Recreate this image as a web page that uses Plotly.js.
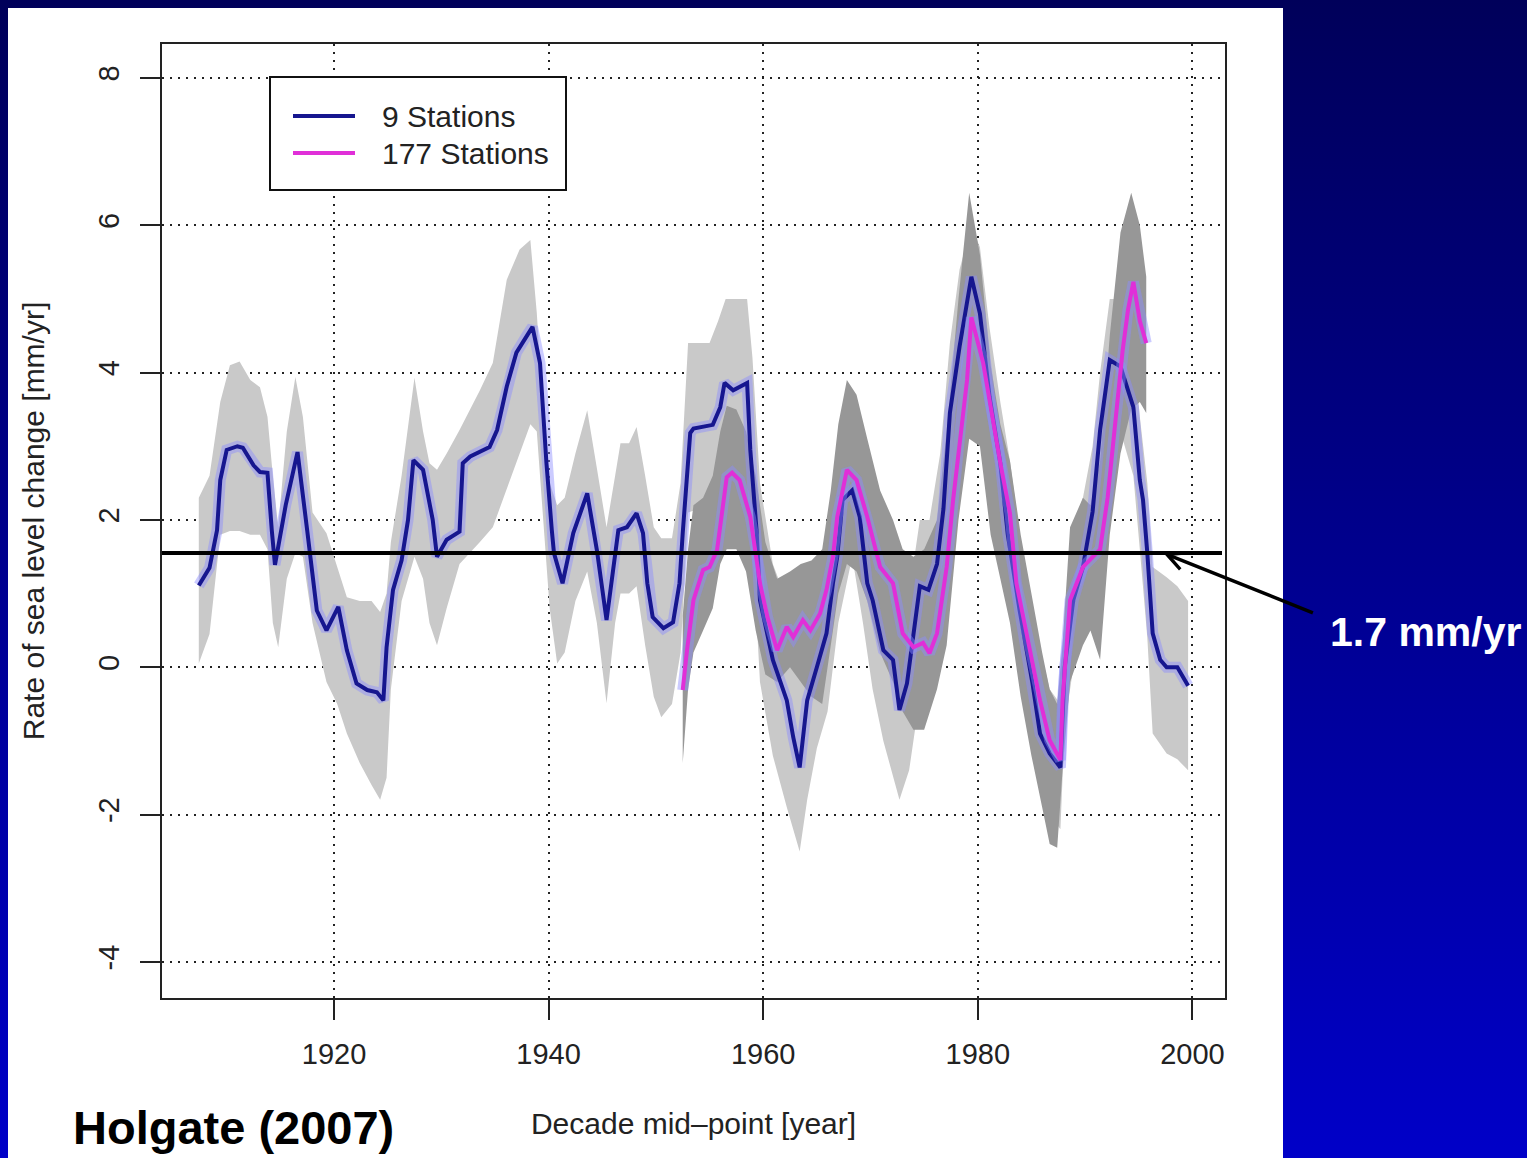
<!DOCTYPE html>
<html>
<head>
<meta charset="utf-8">
<script src="https://cdn.plot.ly/plotly-3.0.1.min.js"></script>
<style>
  html, body { margin: 0; padding: 0; width: 1527px; height: 1158px; overflow: hidden; }
  body { background: linear-gradient(to bottom, #00005a 0%, #000090 50%, #0000c8 100%); position: relative; }
  #panel { position: absolute; left: 8px; top: 8px; width: 1275px; height: 1150px; background: #ffffff; }
  #chart { position: absolute; left: 0; top: 0; width: 1527px; height: 1158px; }
</style>
</head>
<body>
<div id="panel"></div>
<div id="chart"></div>
<script>
// ---------- DATA ----------
// 9 stations: decadal rate of sea level change (mm/yr)
const blueYr = [1907.4,1908.4,1909.1,1909.4,1910.0,1911.0,1911.5,1912.5,1913.1,1913.8,1914.2,1914.5,1915.5,1916.6,1917.5,1918.4,1919.3,1920.4,1921.2,1922.1,1923.1,1924.0,1924.6,1924.9,1925.5,1926.3,1926.9,1927.4,1928.3,1929.2,1929.6,1930.5,1931.7,1932.0,1932.7,1934.5,1935.2,1936.1,1937.0,1938.0,1938.5,1939.2,1939.8,1940.3,1940.5,1941.3,1942.3,1943.6,1944.5,1945.4,1946.0,1946.5,1947.3,1948.2,1948.8,1949.2,1949.7,1950.7,1951.6,1952.2,1952.5,1953.2,1953.5,1955.3,1956.0,1956.4,1957.2,1958.5,1958.8,1959.4,1959.7,1960.9,1962.2,1962.8,1963.4,1964.1,1965.0,1965.9,1966.5,1966.9,1967.4,1968.3,1969.0,1969.7,1970.2,1971.2,1972.1,1972.7,1973.4,1974.0,1974.6,1975.4,1976.2,1976.8,1977.4,1978.3,1979.4,1980.2,1981.1,1982.1,1982.8,1983.9,1985.1,1985.8,1986.7,1987.7,1988.1,1988.9,1989.8,1990.7,1991.4,1992.3,1993.3,1994.5,1995.1,1995.4,1995.8,1996.3,1997.0,1997.6,1998.6,1999.6];
const blueVal = [1.11,1.35,1.86,2.54,2.95,3.00,2.98,2.74,2.65,2.64,1.86,1.39,2.20,2.92,1.86,0.77,0.50,0.82,0.23,-0.22,-0.31,-0.34,-0.45,0.27,1.05,1.45,2.00,2.81,2.68,2.00,1.50,1.73,1.84,2.77,2.86,2.99,3.22,3.81,4.27,4.51,4.62,4.13,2.77,1.86,1.55,1.14,1.82,2.36,1.59,0.64,1.36,1.86,1.90,2.09,1.82,1.14,0.68,0.53,0.61,1.14,1.82,3.18,3.24,3.29,3.53,3.86,3.76,3.86,2.95,1.82,0.91,0.10,-0.45,-0.95,-1.36,-0.45,0.00,0.46,1.14,1.50,2.27,2.40,2.04,1.14,0.91,0.23,0.10,-0.58,-0.22,0.46,1.10,1.05,1.40,2.15,3.45,4.35,5.30,4.80,3.67,2.77,1.80,0.77,-0.22,-0.90,-1.17,-1.36,0.00,0.91,1.36,2.11,3.22,4.17,4.08,3.53,2.54,2.27,1.55,0.46,0.10,0.00,0.00,-0.25];

// 177 stations
const magYr = [1952.5,1952.9,1953.5,1954.4,1955.0,1955.7,1956.6,1957.1,1957.8,1958.8,1959.7,1960.4,1961.3,1962.2,1962.8,1963.7,1964.4,1965.3,1965.9,1966.5,1966.9,1967.8,1968.7,1969.7,1970.9,1972.1,1973.0,1974.0,1974.9,1975.5,1976.2,1977.1,1977.7,1979.0,1979.4,1980.5,1982.1,1983.0,1983.6,1984.9,1985.8,1986.7,1987.7,1987.9,1988.6,1989.8,1991.4,1992.1,1992.8,1993.5,1994.0,1994.5,1995.1,1995.7];
const magVal = [-0.31,0.23,0.91,1.32,1.36,1.59,2.58,2.64,2.54,2.04,1.14,0.68,0.23,0.55,0.41,0.64,0.50,0.73,1.05,1.50,2.04,2.68,2.54,2.04,1.36,1.14,0.46,0.27,0.33,0.19,0.46,1.36,2.27,3.90,4.75,4.13,2.77,2.09,1.14,0.23,-0.45,-0.99,-1.26,-0.45,0.91,1.36,1.60,2.30,3.30,4.30,4.85,5.23,4.70,4.40];

// uncertainty band, 9 stations (light grey)
const band9Yr = [1907.4,1908.4,1909.4,1910.3,1911.2,1912.2,1913.1,1913.8,1914.3,1914.8,1915.6,1916.4,1917.1,1918.0,1919.3,1920.3,1921.2,1922.4,1923.5,1924.3,1924.9,1925.3,1926.3,1927.5,1928.3,1928.9,1929.6,1930.5,1931.7,1933.6,1934.8,1936.1,1937.3,1938.3,1938.9,1939.4,1940.1,1940.8,1941.5,1942.5,1943.6,1944.5,1945.4,1946.2,1946.7,1947.5,1948.2,1949.0,1949.8,1950.5,1951.5,1952.3,1953.0,1955.0,1955.8,1956.5,1958.5,1959.0,1959.7,1960.9,1962.2,1963.4,1964.1,1965.0,1966.0,1967.0,1968.3,1969.3,1970.2,1971.2,1972.7,1973.6,1974.6,1975.5,1976.5,1977.4,1978.3,1979.4,1980.2,1981.1,1982.1,1983.0,1983.9,1985.1,1986.7,1987.7,1988.1,1988.9,1989.8,1990.7,1991.4,1992.3,1993.3,1994.5,1995.1,1995.8,1996.3,1997.6,1998.6,1999.6];
const band9Hi = [2.30,2.60,3.60,4.10,4.15,3.90,3.80,3.40,2.60,1.90,3.20,3.94,3.40,2.10,1.82,1.36,0.95,0.90,0.90,0.75,1.00,1.70,2.60,3.93,3.20,2.77,2.68,2.90,3.22,3.76,4.13,5.26,5.67,5.80,4.81,3.67,2.50,2.20,2.30,2.90,3.49,2.70,1.90,2.60,3.04,3.04,3.26,2.60,1.90,1.75,1.75,2.50,4.40,4.40,4.70,5.00,5.00,4.20,2.50,1.40,0.90,0.40,0.90,1.30,1.80,2.60,3.20,2.80,2.00,1.30,0.60,1.00,2.00,2.00,2.90,4.40,5.40,6.00,5.70,4.60,3.60,2.80,1.80,0.70,-0.30,-0.50,0.80,1.90,2.30,3.00,4.00,5.00,5.00,4.40,3.40,2.50,1.36,1.22,1.10,0.90];
const band9Lo = [0.05,0.45,1.80,1.85,1.85,1.80,1.80,1.60,0.60,0.27,1.20,1.55,1.50,0.60,-0.20,-0.50,-0.90,-1.30,-1.60,-1.80,-1.50,-0.30,0.90,1.50,1.20,0.60,0.30,0.80,1.40,1.70,1.90,2.40,2.90,3.30,3.20,2.20,0.80,0.05,0.20,0.90,1.30,0.60,-0.49,0.60,1.00,1.00,1.10,0.30,-0.40,-0.68,-0.50,0.20,2.10,2.20,2.40,2.60,2.70,1.70,-0.20,-1.20,-1.90,-2.50,-1.80,-1.10,-0.60,0.60,1.50,0.60,-0.30,-1.00,-1.80,-1.40,-0.40,-0.30,0.40,2.40,3.30,4.50,3.90,2.70,1.90,1.30,-0.20,-1.20,-2.00,-2.20,-0.80,0.00,0.40,1.20,2.40,3.30,3.20,2.60,1.60,0.40,-0.90,-1.17,-1.25,-1.40];

// uncertainty band, 177 stations (dark grey)
const band177Yr = [1952.5,1953.0,1953.5,1954.4,1955.3,1956.0,1956.6,1957.5,1958.4,1959.3,1960.2,1961.3,1962.5,1963.5,1964.5,1965.5,1966.3,1967.0,1967.8,1968.7,1969.7,1970.9,1972.1,1973.0,1974.0,1975.0,1976.2,1977.1,1978.2,1979.2,1980.2,1981.2,1982.1,1983.0,1984.0,1985.0,1986.0,1986.7,1987.4,1987.9,1988.6,1989.8,1990.5,1991.4,1992.3,1993.3,1994.3,1995.1,1995.7];
const band177Hi = [0.70,1.60,2.20,2.30,2.60,3.20,3.55,3.50,3.20,2.60,1.70,1.20,1.30,1.40,1.45,1.60,2.40,3.30,3.90,3.70,3.10,2.40,2.00,1.60,1.50,1.60,2.00,3.20,5.00,6.44,5.60,4.10,3.30,2.80,1.80,1.00,0.20,-0.30,-0.50,0.30,1.90,2.30,2.20,2.80,4.50,5.90,6.44,6.00,5.30];
const band177Lo = [-1.30,-0.30,0.20,0.50,0.80,1.40,1.60,1.60,1.30,0.50,-0.10,-0.20,0.00,-0.20,-0.40,-0.50,0.30,1.00,1.40,1.30,0.90,0.20,-0.20,-0.60,-0.85,-0.85,-0.30,0.30,2.00,3.10,3.00,1.80,1.20,0.60,-0.40,-1.20,-1.90,-2.40,-2.45,-1.40,-0.20,0.30,0.50,0.10,1.80,2.90,3.50,3.60,3.45];

const seriesNames = ['9 Stations', '177 Stations'];
const xTickVals = [1920, 1940, 1960, 1980, 2000];
const xTickText = ['1920', '1940', '1960', '1980', '2000'];
const yTickVals = [-4, -2, 0, 2, 4, 6, 8];
const yTickText = ['-4', '-2', '0', '2', '4', '6', '8'];
const refRate = 1.55;          // drawn position of the reference rate line
const refArrowYear = 1997.3;   // where the arrow points on the line
const refLabel = '1.7 mm/yr';
const sourceLabel = 'Holgate (2007)';
const xTitle = 'Decade mid–point [year]';
const yTitle = 'Rate of sea level change [mm/yr]';

// ---------- STYLE ----------
const BLUE = '#16168f';
const MAGENTA = '#e02fd8';
const HALO = 'rgba(140,140,255,0.45)';
const LIGHT_GREY = '#c9c9c9';
const DARK_GREY = '#979797';
const FONT = 'Liberation Sans, Arial, Helvetica, sans-serif';

function band(yr, hi, lo, color, name) {
  return {
    x: yr.concat(yr.slice().reverse()),
    y: hi.concat(lo.slice().reverse()),
    type: 'scatter', mode: 'lines', fill: 'toself',
    fillcolor: color, line: {width: 0, color: color},
    name: name, showlegend: false, hoverinfo: 'skip'
  };
}

const traces = [
  band(band9Yr, band9Hi, band9Lo, LIGHT_GREY, 'band 9'),
  band(band177Yr, band177Hi, band177Lo, DARK_GREY, 'band 177'),
  {x: blueYr, y: blueVal, type: 'scatter', mode: 'lines', line: {color: HALO, width: 11}, showlegend: false, hoverinfo: 'skip'},
  {x: blueYr, y: blueVal, type: 'scatter', mode: 'lines', line: {color: BLUE, width: 4}, name: seriesNames[0], showlegend: false},
  {x: magYr, y: magVal, type: 'scatter', mode: 'lines', line: {color: HALO, width: 11}, showlegend: false, hoverinfo: 'skip'},
  {x: magYr, y: magVal, type: 'scatter', mode: 'lines', line: {color: MAGENTA, width: 4}, name: seriesNames[1], showlegend: false}
];

// plot area: x 162..1225, y 44..998 in a 1527x1158 page
const L = 162, R = 1225, T = 44, B = 998;
const W = R - L, H = B - T;
const px = (x) => (x - L) / W;
const py = (y) => (B - y) / H;

const layout = {
  width: 1527, height: 1158,
  margin: {l: L, r: 1527 - R, t: T, b: 1158 - B},
  paper_bgcolor: 'rgba(0,0,0,0)',
  plot_bgcolor: '#ffffff',
  showlegend: false,
  font: {family: FONT, color: '#222', size: 29},
  xaxis: {
    range: [1903.97, 2003.04], autorange: false,
    tickmode: 'array', tickvals: xTickVals, ticktext: xTickText,
    ticks: 'outside', ticklen: 20, tickwidth: 2, tickcolor: '#222',
    ticklabelstandoff: 9,
    tickfont: {family: FONT, size: 29, color: '#222'},
    showline: true, linecolor: '#222', linewidth: 2, mirror: true,
    showgrid: true, gridcolor: '#222', gridwidth: 2, griddash: '2px,6px',
    zeroline: false,
    title: {text: xTitle, font: {family: FONT, size: 30, color: '#222'}, standoff: 44}
  },
  yaxis: {
    range: [-4.49, 8.46], autorange: false,
    tickmode: 'array', tickvals: yTickVals, ticktext: yTickText,
    ticks: 'outside', ticklen: 20, tickwidth: 2, tickcolor: '#222',
    tickangle: -90, ticklabelstandoff: 9,
    tickfont: {family: FONT, size: 29, color: '#222'},
    showline: true, linecolor: '#222', linewidth: 2, mirror: true,
    showgrid: true, gridcolor: '#222', gridwidth: 2, griddash: '2px,6px',
    zeroline: false,
    title: {text: yTitle, font: {family: FONT, size: 30, color: '#222'}, standoff: 40}
  },
  shapes: [
    // reference rate line
    {type: 'line', xref: 'paper', yref: 'y', x0: 0, x1: px(1222), y0: refRate, y1: refRate,
     line: {color: '#000', width: 4}, layer: 'above'},
    // legend box
    {type: 'rect', xref: 'paper', yref: 'paper', x0: px(270), x1: px(566), y0: py(190), y1: py(77),
     line: {color: '#111', width: 2}, fillcolor: '#ffffff', layer: 'above'},
    {type: 'line', xref: 'paper', yref: 'paper', x0: px(293), x1: px(355), y0: py(116), y1: py(116),
     line: {color: BLUE, width: 4}, layer: 'above'},
    {type: 'line', xref: 'paper', yref: 'paper', x0: px(293), x1: px(355), y0: py(153), y1: py(153),
     line: {color: MAGENTA, width: 4}, layer: 'above'}
  ],
  annotations: [
    {xref: 'paper', yref: 'paper', x: px(380), y: py(117), xanchor: 'left', yanchor: 'middle',
     text: seriesNames[0], showarrow: false, font: {family: FONT, size: 30, color: '#222'}},
    {xref: 'paper', yref: 'paper', x: px(380), y: py(153), xanchor: 'left', yanchor: 'middle',
     text: seriesNames[1], showarrow: false, font: {family: FONT, size: 30, color: '#222'}},
    // arrow to the reference line
    {xref: 'x', yref: 'y', x: refArrowYear, y: refRate, text: ' ', showarrow: true,
     ax: 155, ay: 62, arrowhead: 5, arrowsize: 1, arrowwidth: 3.5, arrowcolor: '#000', standoff: 0, startstandoff: 0},
    {xref: 'paper', yref: 'paper', x: px(1425), y: py(632), xanchor: 'center', yanchor: 'middle',
     text: '<b>' + refLabel + '</b>', showarrow: false, font: {family: FONT, size: 41, color: '#ffffff'}},
    {xref: 'paper', yref: 'paper', x: px(71), y: py(1127), xanchor: 'left', yanchor: 'middle',
     text: '<b>' + sourceLabel + '</b>', showarrow: false, font: {family: FONT, size: 47, color: '#000000'}}
  ]
};

Plotly.newPlot('chart', traces, layout, {staticPlot: true, displayModeBar: false});
</script>
</body>
</html>
